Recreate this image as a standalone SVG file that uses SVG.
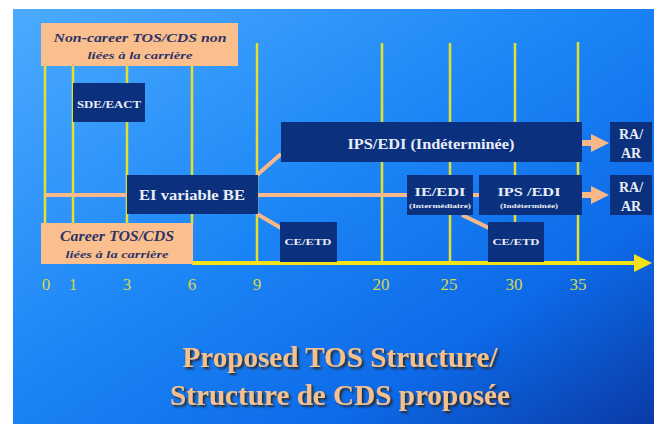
<svg xmlns="http://www.w3.org/2000/svg" width="654" height="426" viewBox="0 0 654 426">
<defs>
<linearGradient id="bg" x1="0" y1="0" x2="1" y2="1">
<stop offset="0" stop-color="#4cabff"/>
<stop offset="0.45" stop-color="#1c86f6"/>
<stop offset="0.75" stop-color="#0d6ae8"/>
<stop offset="1" stop-color="#0a3aa6"/>
</linearGradient>
<filter id="sh" x="-10%" y="-30%" width="120%" height="160%">
<feDropShadow dx="2" dy="2" stdDeviation="0.8" flood-color="#2a2018" flood-opacity="0.9"/>
</filter>
<style>
.vl{stroke:#e6e02a;stroke-width:2.5;fill:none}
.pl{stroke:#f8b88a;stroke-width:4;fill:none}
.pk{fill:#fbbf8e}
.nv{fill:#0b317e}
text{font-family:"Liberation Serif","Times New Roman","DejaVu Serif",serif}
.pt{font-style:italic;font-weight:bold;fill:#2c3468;text-anchor:middle}
.wt{font-weight:bold;fill:#e9edf6;text-anchor:middle}
.ax{font-size:17px;fill:#d6d84c;text-anchor:middle}
.tt{font-weight:bold;font-size:29px;text-anchor:middle;fill:#f6c08c}
</style>
</defs>
<rect x="0" y="0" width="654" height="426" fill="#ffffff"/>
<rect x="13" y="9" width="641" height="415" fill="url(#bg)"/>

<g id="connectors">
<line class="vl" x1="45" y1="66" x2="45" y2="223"/>
<line class="vl" x1="73" y1="66" x2="73" y2="223"/>
<line class="vl" x1="127" y1="66" x2="127" y2="223"/>
<line class="vl" x1="192" y1="66" x2="192" y2="223"/>
<line class="vl" x1="257" y1="43" x2="257" y2="263"/>
<line class="vl" x1="382" y1="43" x2="382" y2="263"/>
<line class="vl" x1="450" y1="43" x2="450" y2="263"/>
<line class="vl" x1="515" y1="43" x2="515" y2="263"/>
<line class="vl" x1="578" y1="42" x2="578" y2="263"/>
<line x1="192" y1="263" x2="636" y2="263" stroke="#f2e418" stroke-width="4"/>
<polygon points="634,254 652,263 634,272" fill="#f2e418"/>
<line class="pl" x1="45" y1="195" x2="410" y2="195"/>
<line class="pl" x1="470" y1="195" x2="482" y2="195"/>
<line class="pl" x1="257" y1="175" x2="281" y2="154"/>
<line class="pl" x1="257" y1="214" x2="281" y2="228"/>
<line class="pl" x1="462" y1="215" x2="489" y2="228"/>
<line x1="582" y1="143" x2="592" y2="143" stroke="#f8b88a" stroke-width="6"/>
<polygon points="591,134 609,143 591,152" fill="#f8b88a"/>
<line x1="582" y1="195" x2="592" y2="195" stroke="#f8b88a" stroke-width="6"/>
<polygon points="591,186 609,195 591,204" fill="#f8b88a"/>
</g>

<g id="noncareer">
<rect class="pk" x="41" y="23" width="197" height="43"/>
<text class="pt" x="140" y="42" font-size="13.5" textLength="173" lengthAdjust="spacingAndGlyphs">Non-career TOS/CDS non</text>
<text class="pt" x="140" y="59" font-size="11" textLength="105" lengthAdjust="spacingAndGlyphs">liées à la carrière</text>
</g>

<g id="career">
<rect class="pk" x="41" y="223" width="152" height="41"/>
<text class="pt" x="117" y="241" font-size="14" textLength="114" lengthAdjust="spacingAndGlyphs">Career TOS/CDS</text>
<text class="pt" x="117" y="258" font-size="11" textLength="103" lengthAdjust="spacingAndGlyphs">liées à la carrière</text>
</g>

<g id="sde">
<rect class="nv" x="73" y="83" width="72" height="39"/>
<text class="wt" x="109" y="108" font-size="11" textLength="64" lengthAdjust="spacingAndGlyphs">SDE/EACT</text>
</g>

<g id="ei">
<rect class="nv" x="127" y="175" width="131" height="39"/>
<text class="wt" x="192" y="200" font-size="15" textLength="106" lengthAdjust="spacingAndGlyphs">EI variable BE</text>
</g>

<g id="ips1">
<rect class="nv" x="281" y="122" width="301" height="40"/>
<text class="wt" x="431" y="149" font-size="14.5" textLength="167" lengthAdjust="spacingAndGlyphs">IPS/EDI (Indéterminée)</text>
</g>

<g id="ra1">
<rect class="nv" x="610" y="122" width="42" height="40"/>
<text class="wt" x="631" y="139" font-size="14">RA/</text>
<text class="wt" x="631" y="158" font-size="14">AR</text>
</g>

<g id="ra2">
<rect class="nv" x="610" y="175" width="42" height="40"/>
<text class="wt" x="631" y="192" font-size="14">RA/</text>
<text class="wt" x="631" y="211" font-size="14">AR</text>
</g>

<g id="ie">
<rect class="nv" x="407" y="175" width="66" height="40"/>
<text class="wt" x="440" y="196" font-size="13" textLength="51" lengthAdjust="spacingAndGlyphs">IE/EDI</text>
<text class="wt" x="440" y="208" font-size="6.5" textLength="62" lengthAdjust="spacingAndGlyphs">(Intermédiaire)</text>
</g>

<g id="ips2">
<rect class="nv" x="479" y="175" width="103" height="40"/>
<text class="wt" x="529" y="196" font-size="13" textLength="63" lengthAdjust="spacingAndGlyphs">IPS /EDI</text>
<text class="wt" x="529" y="208" font-size="6.5" textLength="58" lengthAdjust="spacingAndGlyphs">(Indéterminée)</text>
</g>

<g id="ce1">
<rect class="nv" x="280" y="222" width="57" height="40"/>
<text class="wt" x="308" y="245" font-size="8.5" textLength="47" lengthAdjust="spacingAndGlyphs">CE/ETD</text>
</g>

<g id="ce2">
<rect class="nv" x="488" y="222" width="56" height="40"/>
<text class="wt" x="516" y="245" font-size="8.5" textLength="47" lengthAdjust="spacingAndGlyphs">CE/ETD</text>
</g>

<g id="axis-labels">
<text class="ax" x="46" y="290">0</text>
<text class="ax" x="73" y="290">1</text>
<text class="ax" x="127" y="290">3</text>
<text class="ax" x="192" y="290">6</text>
<text class="ax" x="257" y="290">9</text>
<text class="ax" x="381" y="290">20</text>
<text class="ax" x="449" y="290">25</text>
<text class="ax" x="514" y="290">30</text>
<text class="ax" x="578" y="290">35</text>
</g>

<g id="title" filter="url(#sh)">
<text class="tt" x="340" y="367" textLength="315" lengthAdjust="spacingAndGlyphs">Proposed TOS Structure/</text>
<text class="tt" x="340" y="405" textLength="340" lengthAdjust="spacingAndGlyphs">Structure de CDS proposée</text>
</g>
</svg>
